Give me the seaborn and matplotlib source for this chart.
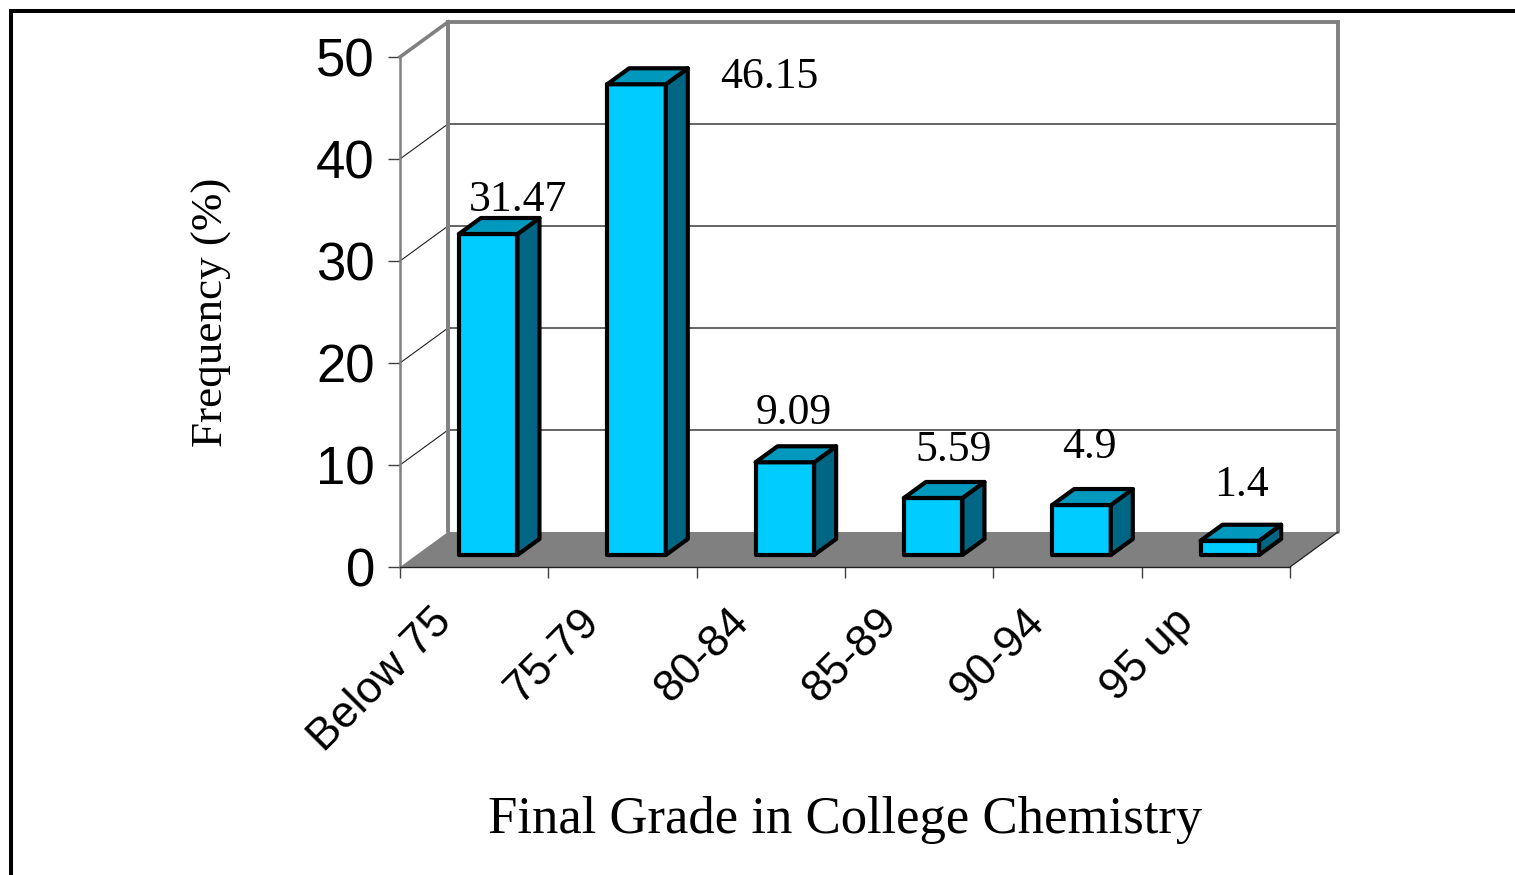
import numpy as np
import pandas as pd
import matplotlib
matplotlib.use("Agg")
import matplotlib.pyplot as plt
import matplotlib.transforms as mtransforms
from matplotlib.patches import Polygon, Rectangle
from matplotlib.lines import Line2D
import seaborn as sns

# ---- data -------------------------------------------------------------
grades = ["Below 75", "75-79", "80-84", "85-89", "90-94", "95 up"]
frequency = [31.47, 46.15, 9.09, 5.59, 4.9, 1.4]
y_ticks = [0, 10, 20, 30, 40, 50]

# ---- style ------------------------------------------------------------
sns.set_style("white")
plt.rcParams["font.family"] = ["Liberation Sans", "DejaVu Sans"]
plt.rcParams["text.color"] = "black"
plt.rcParams["axes.labelcolor"] = "black"
plt.rcParams["xtick.labelcolor"] = "black"
plt.rcParams["ytick.labelcolor"] = "black"
SERIF = ["Liberation Serif", "DejaVu Serif"]

FRONT = "#00CCFF"
TOP = "#0099BD"
SIDE = "#006683"
WALL_EDGE = "#808080"
FLOOR = "#808080"
EDGE_LW = 3.0

DPI = 100
W, H = 1515, 875
fig = plt.figure(figsize=(W / DPI, H / DPI), dpi=DPI)
fig.patch.set_facecolor("white")

# front plane of the 3-D box, in pixels
X0, X1, Y0, Y1 = 400, 1290, 567, 57
ax = fig.add_axes([X0 / W, 1 - Y0 / H, (X1 - X0) / W, (Y0 - Y1) / H])
ax.set_facecolor("none")

df = pd.DataFrame({"grade": grades, "freq": frequency})
sns.barplot(data=df, x="grade", y="freq", color=FRONT, saturation=1,
            width=0.395, edgecolor="black", linewidth=EDGE_LW, ax=ax, zorder=3)
bars = list(ax.patches)

ax.set_xlim(-0.5, len(grades) - 0.5)
ax.set_ylim(y_ticks[0], y_ticks[-1])

xr = ax.get_xlim()
yr = ax.get_ylim()
px_x = (xr[1] - xr[0]) / (X1 - X0)
px_y = (yr[1] - yr[0]) / (Y0 - Y1)


def depth(dx, dy):
    """Screen offset in pixels (y downward) -> data offset."""
    return dx * px_x, -dy * px_y


def shifted(dx, dy):
    return ax.transData + mtransforms.ScaledTranslation(dx / DPI, -dy / DPI,
                                                        fig.dpi_scale_trans)


WALL = (48, -35)      # depth of the box
BAR_FRONT = (14, -12)  # bars sit a little behind the front plane
BAR_DEPTH = (22, -16)  # extrusion of each column

wx, wy = depth(*WALL)
xa, xb = xr
ya, yb = yr

# back wall
ax.add_patch(Polygon([(xa + wx, ya + wy), (xb + wx, ya + wy),
                      (xb + wx, yb + wy), (xa + wx, yb + wy)],
                     closed=True, facecolor="white", edgecolor="none",
                     zorder=0.5, clip_on=False))
# left wall
ax.add_patch(Polygon([(xa, ya), (xa, yb), (xa + wx, yb + wy), (xa + wx, ya + wy)],
                     closed=True, facecolor="white", edgecolor="none",
                     zorder=0.5, clip_on=False))
# floor
ax.add_patch(Polygon([(xa, ya), (xb, ya), (xb + wx, ya + wy), (xa + wx, ya + wy)],
                     closed=True, facecolor=FLOOR, edgecolor="none",
                     zorder=1, clip_on=False))
ax.add_line(Line2D([xb, xb + wx], [ya, ya + wy], color="#202020", lw=0.9,
                   zorder=1.2, clip_on=False))

# gridlines on the back wall and matching lines across the left wall
for v in y_ticks[1:-1]:
    ax.add_line(Line2D([xa + wx, xb + wx], [v + wy, v + wy], color="#3a3a3a",
                       lw=1.1, zorder=0.8, clip_on=False))
    ax.add_line(Line2D([xa, xa + wx], [v, v + wy], color="#202020",
                       lw=0.8, zorder=0.8, clip_on=False))

# wall outlines
ax.add_line(Line2D([xa, xa + wx], [yb, yb + wy], color=WALL_EDGE, lw=2.6,
                   zorder=0.9, clip_on=False, solid_capstyle="projecting"))
ax.add_line(Line2D([xa + wx, xa + wx, xb + wx, xb + wx],
                   [ya + wy, yb + wy, yb + wy, ya + wy],
                   color=WALL_EDGE, lw=2.8, zorder=0.9, clip_on=False,
                   solid_joinstyle="miter"))

# extrude the seaborn columns into boxes
bdx, bdy = depth(*BAR_DEPTH)
bar_tf = shifted(*BAR_FRONT)
for p in bars:
    x, w, h = p.get_x(), p.get_width(), p.get_height()
    p.set_transform(bar_tf)
    p.set_clip_on(False)
    p.set_joinstyle("round")
    top = Polygon([(x, h), (x + w, h), (x + w + bdx, h + bdy), (x + bdx, h + bdy)],
                  closed=True, facecolor=TOP, edgecolor="black", lw=EDGE_LW,
                  joinstyle="round", transform=bar_tf, zorder=3, clip_on=False)
    side = Polygon([(x + w, 0), (x + w + bdx, bdy), (x + w + bdx, h + bdy), (x + w, h)],
                   closed=True, facecolor=SIDE, edgecolor="black", lw=EDGE_LW,
                   joinstyle="round", transform=bar_tf, zorder=3, clip_on=False)
    ax.add_patch(side)
    ax.add_patch(top)

# value labels
label_offsets = [(44, -35), (147, -8), (23, -50), (34, -49), (22, -59), (26, -57)]
for i, (v, (ox, oy)) in enumerate(zip(frequency, label_offsets)):
    ax.annotate(f"{v:g}", xy=(i, v), xytext=(ox * 0.72, -oy * 0.72),
                textcoords="offset points", ha="center", va="baseline",
                fontsize=31.5, family=SERIF, color="black", zorder=5,
                annotation_clip=False)

# spines
for s in ("top", "right"):
    ax.spines[s].set_visible(False)
ax.spines["left"].set_color(WALL_EDGE)
ax.spines["left"].set_linewidth(1.8)
ax.spines["bottom"].set_color("#202020")
ax.spines["bottom"].set_linewidth(1.0)
ax.spines["left"].set_zorder(2)
ax.spines["bottom"].set_zorder(2)

# y axis
ax.set_yticks(y_ticks)
ax.set_yticklabels([str(t) for t in y_ticks])
ax.tick_params(axis="y", which="major", direction="out", length=8.6, width=1.0,
               color="#404040", labelcolor="black", pad=9.5, labelsize=38,
               left=True)

# x axis: marks between categories, labels at category centres
ax.set_xticks(np.arange(len(grades) + 1) - 0.5)
ax.set_xticklabels([])
ax.set_xticks(np.arange(len(grades)), labels=grades, minor=True)
ax.tick_params(axis="x", which="major", direction="out", length=8.0, width=1.0,
               color="#404040", bottom=True)
ax.tick_params(axis="x", which="minor", length=0, pad=35, labelsize=32,
               labelcolor="black", bottom=True)
for lbl in ax.get_xticklabels(minor=True):
    lbl.set_rotation(45)
    lbl.set_ha("right")
    lbl.set_va("center")
    lbl.set_rotation_mode("anchor")
    lbl.set_transform(lbl.get_transform() +
                      mtransforms.ScaledTranslation(-29 / DPI, 0, fig.dpi_scale_trans))

# axis titles
ax.set_xlabel("Final Grade in College Chemistry", fontsize=38, family=SERIF,
              color="black")
ax.xaxis.label.set_va("baseline")
ax.xaxis.set_label_coords(0.5, (Y0 - 833) / (Y0 - Y1))
ax.set_ylabel("Frequency (%)", fontsize=32.5, family=SERIF, color="black")
ax.yaxis.label.set_va("center")
ax.yaxis.set_label_coords((212 - X0) / (X1 - X0), 0.5)

# outer frame of the chart area
fig.add_artist(Rectangle((11 / W, -0.5), 2.0, (1 - 11 / H) + 0.5,
                         transform=fig.transFigure, fill=False,
                         edgecolor="black", lw=2.9, clip_on=False))

fig.savefig("out.png", dpi=DPI)
